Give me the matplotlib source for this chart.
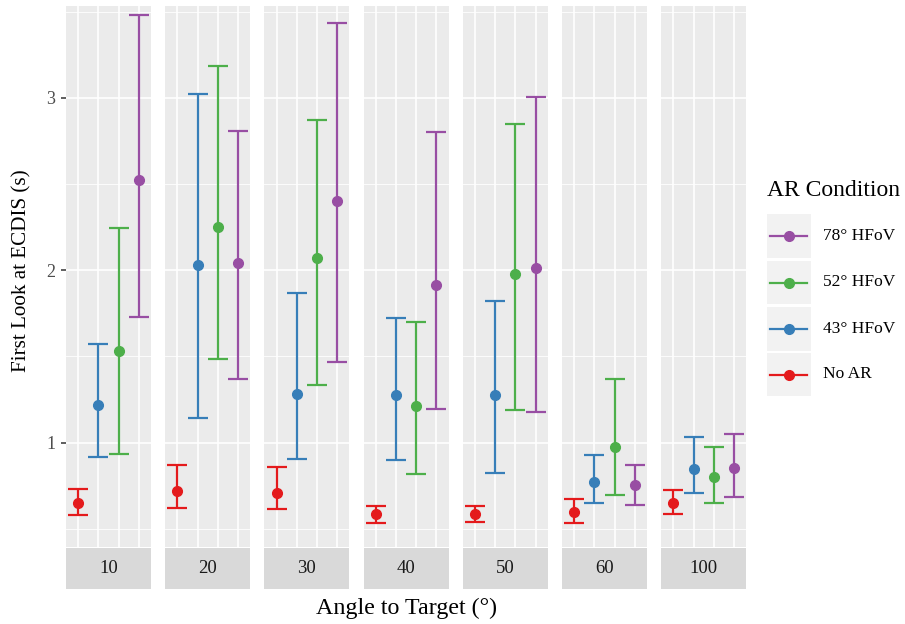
import matplotlib
matplotlib.use('Agg')
import matplotlib.pyplot as plt
from matplotlib.patches import Rectangle

# ---------------- data ----------------
angles = ['10', '20', '30', '40', '50', '60', '100']
conditions = ['No AR', '43° HFoV', '52° HFoV', '78° HFoV']
colors = ['#E41A1C', '#377EB8', '#4DAF4A', '#984EA3']

noar_mean = [0.651, 0.720, 0.710, 0.585, 0.585, 0.598, 0.647]
noar_low  = [0.581, 0.618, 0.614, 0.535, 0.539, 0.535, 0.585]
noar_high = [0.730, 0.867, 0.857, 0.629, 0.629, 0.674, 0.726]

h43_mean = [1.220, 2.029, 1.280, 1.274, 1.274, 0.772, 0.846]
h43_low  = [0.917, 1.141, 0.907, 0.900, 0.826, 0.649, 0.710]
h43_high = [1.570, 3.021, 1.867, 1.724, 1.822, 0.925, 1.035]

h52_mean = [1.533, 2.253, 2.068, 1.210, 1.977, 0.975, 0.799]
h52_low  = [0.934, 1.485, 1.332, 0.817, 1.191, 0.695, 0.647]
h52_high = [2.247, 3.185, 2.871, 1.697, 2.849, 1.369, 0.973]

h78_mean = [2.521, 2.044, 2.402, 1.917, 2.010, 0.753, 0.855]
h78_low  = [1.726, 1.369, 1.469, 1.193, 1.180, 0.639, 0.685]
h78_high = [3.481, 2.807, 3.432, 2.803, 3.006, 0.871, 1.050]

means = [noar_mean, h43_mean, h52_mean, h78_mean]
lows = [noar_low, h43_low, h52_low, h78_low]
highs = [noar_high, h43_high, h52_high, h78_high]

y_ticks = [1, 2, 3]
y_minor = [0.5, 1.5, 2.5, 3.5]

# ---------------- layout ----------------
W, H = 905, 624
plt.rcParams['font.family'] = ['Liberation Serif', 'DejaVu Serif']
fig = plt.figure(figsize=(W / 100, H / 100), dpi=100)

def px(x0, y0, w, h):
    return [x0 / W, 1 - (y0 + h) / H, w / W, h / H]

panel_left0 = 66
panel_step = 99.2
panel_w = 85
panel_top = 6
panel_bot = 547
strip_h = 41
bg = '#EBEBEB'

for i, ang in enumerate(angles):
    x0 = panel_left0 + i * panel_step
    ax = fig.add_axes(px(x0, panel_top, panel_w, panel_bot - panel_top))
    ax.set_facecolor(bg)
    for s in ax.spines.values():
        s.set_visible(False)
    ax.set_xlim(0.4, 4.6)
    ax.set_ylim(0.394, 3.533)
    for yv in y_minor:
        ax.axhline(yv, color='white', lw=0.6, zorder=0)
    for yv in y_ticks:
        ax.axhline(yv, color='white', lw=1.2, zorder=0)
    for xv in range(1, 5):
        ax.axvline(xv, color='white', lw=1.2, zorder=0)
    for k in range(4):
        m = means[k][i]
        lo = lows[k][i]
        hi = highs[k][i]
        ax.errorbar([k + 1], [m], yerr=[[m - lo], [hi - m]], fmt='o',
                    color=colors[k], ms=7, elinewidth=1.6, capsize=7,
                    capthick=1.6, zorder=3)
    ax.set_xticks([])
    if i == 0:
        ax.set_yticks(y_ticks)
        ax.set_yticklabels([str(t) for t in y_ticks])
        ax.tick_params(axis='y', length=3.5, width=1.1, color='#333333',
                       labelcolor='#4D4D4D', labelsize=13, pad=4)
    else:
        ax.set_yticks([])
    # strip
    sax = fig.add_axes(px(x0, panel_bot + 1, panel_w, strip_h))
    sax.set_facecolor('#D9D9D9')
    for s in sax.spines.values():
        s.set_visible(False)
    sax.set_xticks([]); sax.set_yticks([])
    sax.text(0.5, 0.5, ang, ha='center', va='center', fontsize=13.5,
             color='#1A1A1A', transform=sax.transAxes)

# axis titles
fig.text(406 / W, 1 - 608 / H, 'Angle to Target (°)', ha='center', va='center',
         fontsize=17.3, color='black')
fig.text(22 / W, 1 - 271 / H, 'First Look at ECDIS (s)', ha='center', va='center',
         rotation=90, fontsize=15.2, color='black')

# legend (manual, ggplot style)
lax = fig.add_axes([0, 0, 1, 1])
lax.set_xlim(0, W); lax.set_ylim(H, 0)
lax.axis('off')
lax.text(767, 191, 'AR Condition', ha='left', va='center', fontsize=17, color='black')
key_tops = [214, 260.5, 307, 352.5]
order = [3, 2, 1, 0]
for j, k in enumerate(order):
    yt = key_tops[j]
    lax.add_patch(Rectangle((767, yt), 44, 43.5, facecolor='#F2F2F2', edgecolor='none'))
    yc = yt + 22
    lax.plot([770, 807], [yc, yc], color=colors[k], lw=1.6)
    lax.plot([788.5], [yc], 'o', color=colors[k], ms=7)
    lax.text(823, yc, conditions[k], ha='left', va='center', fontsize=12.5, color='black')

fig.savefig('out.png', dpi=100)
